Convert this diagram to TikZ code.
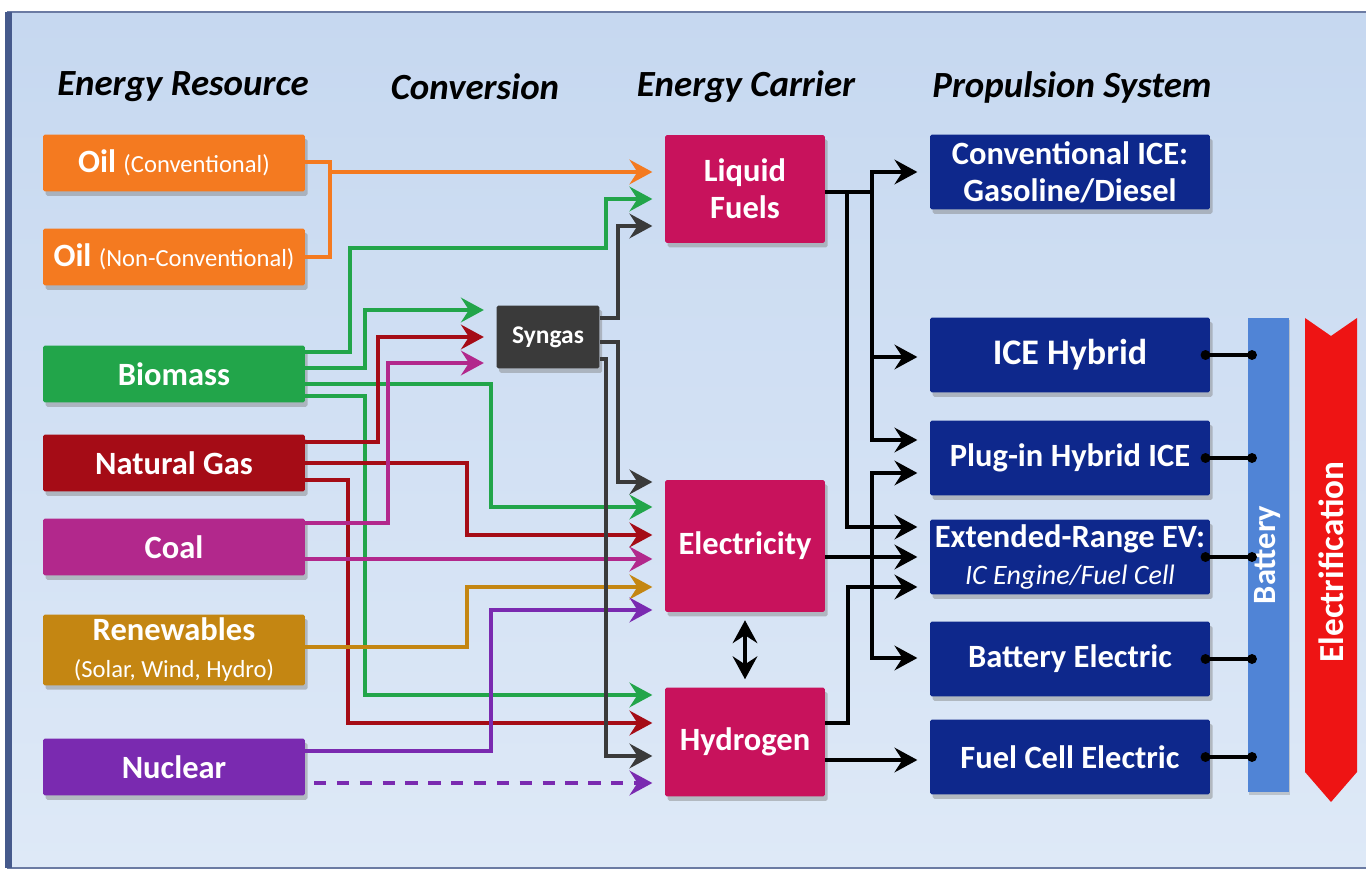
\documentclass[tikz,border=0pt]{standalone}
\usepackage{fontspec}
\setmainfont{Carlito}
\usetikzlibrary{arrows.meta, shadows}

\definecolor{bgtop}{RGB}{198,216,240}
\definecolor{bgbot}{RGB}{222,233,247}
\definecolor{framecol}{RGB}{70,90,140}
\definecolor{oilcol}{RGB}{244,122,32}
\definecolor{biocol}{RGB}{34,165,74}
\definecolor{gascol}{RGB}{165,12,22}
\definecolor{coalcol}{RGB}{178,40,140}
\definecolor{rencol}{RGB}{196,134,18}
\definecolor{nuccol}{RGB}{122,42,176}
\definecolor{syncol}{RGB}{58,58,58}
\definecolor{carcol}{RGB}{200,18,92}
\definecolor{propcol}{RGB}{14,40,140}
\definecolor{battcol}{RGB}{80,132,214}
\definecolor{electcol}{RGB}{238,20,20}

\newcommand{\smalltxt}[1]{{\mdseries\fontsize{14}{16}\selectfont #1}}

\begin{document}
\begin{tikzpicture}[x=0.02cm, y=-0.02cm,
    % Define the box styles
    cellbox/.style={rounded corners=1pt, text=white, align=center, inner sep=2pt,
        font=\bfseries\fontsize{18.5}{21}\selectfont,
        drop shadow={shadow xshift=1.5pt, shadow yshift=-2.5pt, opacity=0.45}},
    srcbox/.style={cellbox, minimum width=5.24cm, minimum height=1.14cm},
    carbox/.style={cellbox, fill=carcol, minimum width=3.2cm},
    propbox/.style={cellbox, fill=propcol, minimum width=5.6cm, minimum height=1.5cm},
    heading/.style={font=\bfseries\itshape\fontsize{21}{24}\selectfont},
    % Define the connector styles
    link/.style={line width=2.5pt},
    flow/.style={link, -{Stealth[length=13pt, width=14pt, inset=4.5pt]}, shorten >=7pt},
    dotlink/.style={line width=1.8pt, {Circle[length=5.5pt]}-{Circle[length=5.5pt]},
        shorten <=-5.5pt, shorten >=-5.5pt}
]

% Define the frame
\useasboundingbox (0,0) rectangle (1366,871);
\fill[white] (0,0) rectangle (1366,871);
\shade[top color=bgtop, bottom color=bgbot] (7,12) rectangle (1366,868);
\draw[framecol!80, line width=1.5pt] (7,12) -- (1366,12);
\draw[framecol!80, line width=1.5pt] (7,868) -- (1366,868);
\fill[framecol] (5,12) rectangle (12,868);

% Add the column headings
\node[heading] (hres) at (183,87) {Energy Resource};
\node[heading] (hconv) at (475,87) {Conversion};
\node[heading] (hcar) at (746,87) {Energy Carrier};
\node[heading] (hprop) at (1072,87) {Propulsion System};

% Define the resource boxes
\node[srcbox, fill=oilcol] (oilc) at (174,163) {Oil \smalltxt{(Conventional)}};
\node[srcbox, fill=oilcol] (oiln) at (174,257) {Oil \smalltxt{(Non-Conventional)}};
\node[srcbox, fill=biocol] (bio) at (174,374) {Biomass};
\node[srcbox, fill=gascol] (gas) at (174,463) {Natural Gas};
\node[srcbox, fill=coalcol] (coal) at (174,547) {Coal};
\node[srcbox, fill=rencol, minimum height=1.4cm] (ren) at (174,650)
    {Renewables\\\smalltxt{(Solar, Wind, Hydro)}};
\node[srcbox, fill=nuccol] (nuc) at (174,767) {Nuclear};

% Define the conversion and carrier boxes
\node[cellbox, fill=syncol, minimum width=2.06cm, minimum height=1.26cm,
    font=\bfseries\fontsize{14.5}{16}\selectfont] (syn) at (548,337) {Syngas};
\node[carbox, minimum height=2.16cm] (liq) at (745,189) {Liquid\\Fuels};
\node[carbox, minimum height=2.64cm] (elec) at (745,546) {Electricity};
\node[carbox, minimum height=2.18cm] (hyd) at (745,742) {Hydrogen};

% Define the propulsion boxes
\node[propbox] (conv) at (1070,172) {Conventional ICE:\\Gasoline/Diesel};
\node[propbox, font=\bfseries\fontsize{20.5}{22}\selectfont] (iceh) at (1070,355) {ICE Hybrid};
\node[propbox] (phev) at (1070,458) {Plug-in Hybrid ICE};
\node[propbox] (erev) at (1070,557)
    {Extended-Range EV:\\{\mdseries\itshape\fontsize{16}{18}\selectfont IC Engine/Fuel Cell}};
\node[propbox] (bev) at (1070,659) {Battery Electric};
\node[propbox] (fcev) at (1070,757) {Fuel Cell Electric};

% Battery bar and electrification arrow
\node[fill=battcol, minimum width=0.82cm, minimum height=9.5cm, inner sep=0pt,
    text=white, font=\bfseries\fontsize{18.5}{20}\selectfont,
    drop shadow={shadow xshift=1pt, shadow yshift=-1.5pt, opacity=0.35}]
    (batt) at (1268,555) {\rotatebox{90}{Battery}};
\fill[electcol] (1305,318) -- (1331,336) -- (1357,318) -- (1357,772)
    -- (1331,802) -- (1305,772) -- cycle;
\node[text=white, font=\bfseries\fontsize{20}{22}\selectfont] (electrif) at (1331,562)
    {\rotatebox{90}{Electrification}};

% Draw the oil connectors
\coordinate (oiljoin) at (330,172);
\draw[link, oilcol] (oilc.east |- 0,162) -| (330,257) -- (oiln.east |- 0,257);
\draw[flow, oilcol] (oiljoin) -- (liq.west |- 0,172);

% Draw the biomass connectors
\draw[flow, biocol] (bio.east |- 0,352) -| (350,248) -| (606,199) -- (liq.west |- 0,199);
\draw[flow, biocol] (bio.east |- 0,368) -| (365,310) -- (syn.west |- 0,310);
\draw[flow, biocol] (bio.east |- 0,384) -| (491,507) -- (elec.west |- 0,507);
\draw[flow, biocol] (bio.east |- 0,396) -| (365,695) -- (hyd.west |- 0,695);

% Draw the natural gas connectors
\draw[flow, gascol] (gas.east |- 0,442) -| (378,337) -- (syn.west |- 0,337);
\draw[flow, gascol] (gas.east |- 0,463) -| (467,535) -- (elec.west |- 0,535);
\draw[flow, gascol] (gas.east |- 0,480) -| (348,723) -- (hyd.west |- 0,723);

% Draw the coal, renewables and nuclear connectors
\draw[flow, coalcol] (coal.east |- 0,523) -| (388,363) -- (syn.west |- 0,363);
\draw[flow, coalcol] (coal.east |- 0,559) -- (elec.west |- 0,559);
\draw[flow, rencol] (ren.east |- 0,647) -| (467,587) -- (elec.west |- 0,587);
\draw[flow, nuccol] (nuc.east |- 0,751) -| (491,610) -- (elec.west |- 0,610);
\draw[flow, nuccol, dash pattern=on 7pt off 6pt, shorten <=5pt]
    (nuc.east |- 0,783) -- (hyd.west |- 0,783);

% Draw the syngas connectors
\draw[flow, syncol] (syn.east |- 0,318) -| (618,226) -- (liq.west |- 0,226);
\draw[flow, syncol] (syn.east |- 0,342) -| (618,482) -- (elec.west |- 0,482);
\draw[flow, syncol] (syn.east |- 0,359) -| (606,756) -- (hyd.west |- 0,756);

% Draw the carrier to propulsion connectors
\draw[flow] (liq.east |- 0,192) -| (872,172) -- (conv.west |- 0,172);
\draw[flow] (liq.east |- 0,192) -| (872,357) -- (iceh.west |- 0,357);
\draw[flow] (liq.east |- 0,192) -| (872,440) -- (phev.west |- 0,440);
\draw[flow] (liq.east |- 0,192) -| (847,527) -- (erev.west |- 0,527);
\draw[flow] (elec.east |- 0,557) -- (erev.west |- 0,557);
\draw[flow] (elec.east |- 0,557) -| (872,473) -- (phev.west |- 0,473);
\draw[flow] (elec.east |- 0,557) -| (872,658) -- (bev.west |- 0,658);
\draw[flow] (hyd.east |- 0,723) -| (848,587) -- (erev.west |- 0,587);
\draw[flow] (hyd.east |- 0,760) -- (fcev.west |- 0,760);

% Draw the electricity and hydrogen exchange
\draw[link, {Stealth[length=13pt, width=14pt, inset=4.5pt]}-{Stealth[length=13pt, width=14pt, inset=4.5pt]},
    shorten <=4.5pt, shorten >=4.5pt] (elec.south) -- (hyd.north);

% Draw the battery links
\draw[dotlink] (iceh.east) -- (batt.west |- iceh.east);
\draw[dotlink] (phev.east) -- (batt.west |- phev.east);
\draw[dotlink] (erev.east) -- (batt.west |- erev.east);
\draw[dotlink] (bev.east) -- (batt.west |- bev.east);
\draw[dotlink] (fcev.east) -- (batt.west |- fcev.east);

\end{tikzpicture}
\end{document}
